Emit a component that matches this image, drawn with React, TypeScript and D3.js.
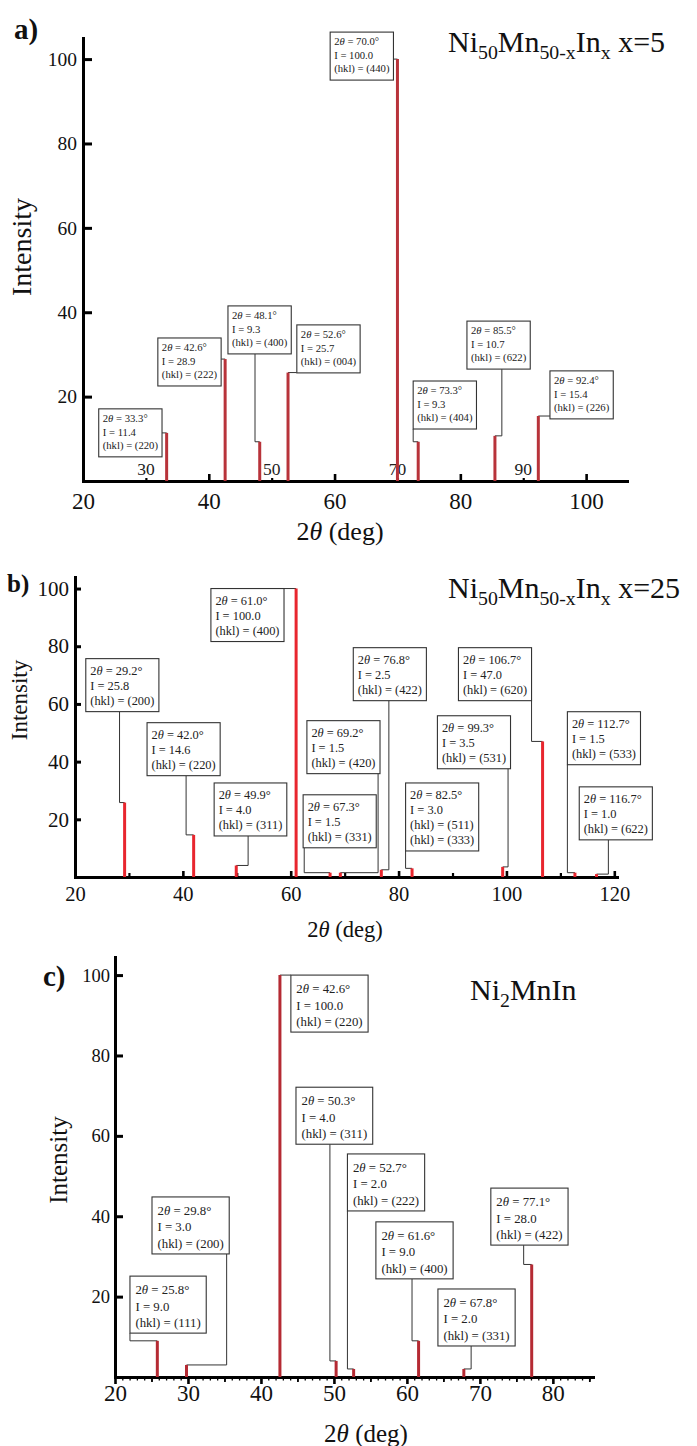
import React, { useEffect, useRef } from "react";
import * as d3 from "d3";

const WIDTH = 697;
const HEIGHT = 1446;
const SERIF = "'Liberation Serif', 'Times New Roman', Times, serif";
const Y_TICKS = [20, 40, 60, 80, 100];

// a) Ni50Mn50-xInx, x = 5
const anglesA = [33.3, 42.6, 48.1, 52.6, 70.0, 73.3, 85.5, 92.4];
const intensityA = [11.4, 28.9, 9.3, 25.7, 100.0, 9.3, 10.7, 15.4];
const hklA = [["220"], ["222"], ["400"], ["004"], ["440"], ["404"], ["622"], ["226"]];
const xTicksA = [20, 40, 60, 80, 100];
const xInnerA = [30, 50, 70, 90];
// label boxes: top-left corner in (deg, intensity), leader drop x in deg (null = straight across)
const boxXA = [22.5, 31.9, 43.05, 54.0, 59.3, 72.5, 81.05, 94.25];
const boxYA = [17.1, 33.9, 41.5, 37.0, 106.4, 23.7, 37.9, 26.1];
const leadXA = [null, null, 47.35, null, null, 72.5, 86.6, null];

// b) Ni50Mn50-xInx, x = 25
const anglesB = [29.2, 42.0, 49.9, 61.0, 67.3, 69.2, 76.8, 82.5, 99.3, 106.7, 112.7, 116.7];
const intensityB = [25.8, 14.6, 4.0, 100.0, 1.5, 1.5, 2.5, 3.0, 3.5, 47.0, 1.5, 1.0];
const hklB = [["200"], ["220"], ["311"], ["400"], ["331"], ["420"], ["422"], ["511", "333"], ["531"], ["620"], ["533"], ["622"]];
const xTicksB = [20, 40, 60, 80, 100, 120];
const xMinorB = [30, 50, 70, 90, 110];
const boxXB = [22.0, 33.36, 45.8, 45.2, 62.3, 63.0, 71.6, 81.3, 87.2, 91.1, 111.3, 113.5];
const boxYB = [75.7, 53.5, 32.6, 100.0, 28.5, 54.2, 79.5, 32.6, 55.9, 79.5, 57.3, 31.25];
const leadXB = [28.26, 40.6, 52.1, null, 62.5, 76.2, 78.2, 81.3, 100.3, 104.8, 111.3, 118.9];

// c) Ni2MnIn
const anglesC = [25.8, 29.8, 42.6, 50.3, 52.7, 61.6, 67.8, 77.1];
const intensityC = [9.0, 3.0, 100.0, 4.0, 2.0, 9.0, 2.0, 28.0];
const hklC = [["111"], ["200"], ["220"], ["311"], ["222"], ["400"], ["331"], ["422"]];
const xTicksC = [20, 30, 40, 50, 60, 70, 80];
const boxXC = [22.05, 25.07, 44.1, 44.8, 51.85, 55.75, 64.25, 71.5];
const boxYC = [25.1, 44.8, 100.0, 72.1, 55.5, 38.6, 21.9, 47.0];
const leadXC = [22.05, 35.3, null, 49.45, 51.85, 60.7, 68.8, 76.0];

const panels = [
  {
    letter: "a)", letterX: 14, letterY: 39, letterSize: 29,
    title: [["Ni", 0], ["50", 1], ["Mn", 0], ["50-x", 1], ["In", 0], ["x", 1], [" x=5", 0]],
    titleX: 448, titleY: 52, titleSize: 30,
    angles: anglesA, intensity: intensityA, hkl: hklA, boxX: boxXA, boxY: boxYA, leadX: leadXA,
    xDomain: [20, 106.5], xRange: [83, 627], yDomain: [0, 105], yRange: [481, 38],
    xTicks: xTicksA, xMinor: xInnerA, xMid: [], xInner: xInnerA,
    majorLen: -7, minorLen: -3, midLen: 0, xPad: 12, xFont: 23,
    yTickLen: 9, yPad: 6, yFont: 19.5,
    yTitleX: 31, yTitleY: 247, yTitleSize: 28,
    xTitleX: 340, xTitleY: 540, xTitleSize: 26,
    color: "#b8333a",
    font: 10.7, padX: 4, first: 13, lh: 13.7, bottom: 7.6,
  },
  {
    letter: "b)", letterX: 7, letterY: 592, letterSize: 25,
    title: [["Ni", 0], ["50", 1], ["Mn", 0], ["50-x", 1], ["In", 0], ["x", 1], [" x=25", 0]],
    titleX: 448, titleY: 598, titleSize: 30,
    angles: anglesB, intensity: intensityB, hkl: hklB, boxX: boxXB, boxY: boxYB, leadX: leadXB,
    xDomain: [20, 120.5], xRange: [75, 617], yDomain: [0, 104], yRange: [877, 577],
    xTicks: xTicksB, xMinor: xMinorB, xMid: [], xInner: [],
    majorLen: -6, minorLen: -4, midLen: 0, xPad: 9, xFont: 20.5,
    yTickLen: 6, yPad: 6, yFont: 21,
    yTitleX: 27, yTitleY: 700, yTitleSize: 23,
    xTitleX: 345, xTitleY: 937, xTitleSize: 22.5,
    color: "#e8262e",
    font: 12.4, padX: 4.5, first: 16, lh: 15, bottom: 7,
  },
  {
    letter: "c)", letterX: 43, letterY: 986, letterSize: 29,
    title: [["Ni", 0], ["2", 1], ["MnIn", 0]],
    titleX: 470, titleY: 1000, titleSize: 30,
    angles: anglesC, intensity: intensityC, hkl: hklC, boxX: boxXC, boxY: boxYC, leadX: leadXC,
    xDomain: [20, 85.5], xRange: [115, 593], yDomain: [0, 104.5], yRange: [1377, 957],
    xTicks: xTicksC, xMinor: d3.range(21, 86), xMid: [25, 35, 45, 55, 65, 75, 85], xInner: [],
    majorLen: 7, minorLen: 3.5, midLen: 5, xPad: 1, xFont: 23,
    yTickLen: 8, yPad: 5, yFont: 18.5,
    yTitleX: 67, yTitleY: 1160, yTitleSize: 25,
    xTitleX: 366, xTitleY: 1442, xTitleSize: 25,
    color: "#b52a33",
    font: 12.8, padX: 5.5, first: 18, lh: 16.5, bottom: 6,
  },
];

function styleAxis(sel, font, lineWidth, domainWidth) {
  sel.attr("font-family", SERIF);
  sel.select(".domain").attr("stroke-width", domainWidth).attr("stroke-linecap", "square").attr("stroke", "#000");
  sel.selectAll(".tick line").attr("stroke-width", lineWidth).attr("stroke", "#000");
  sel.selectAll(".tick text")
    .attr("font-size", font)
    .attr("fill", "#111")
    .style("font-family", SERIF);
}

function drawPanel(root, p) {
  const x = d3.scaleLinear().domain(p.xDomain).range(p.xRange);
  const y = d3.scaleLinear().domain(p.yDomain).range(p.yRange);
  const g = root.append("g").style("font-family", SERIF);
  const y0 = y(0);

  // minor ticks on the x axis
  const minor = (vals, len, w) => {
    if (!vals.length || !len) return;
    g.append("g")
      .attr("transform", `translate(0,${y0})`)
      .call(d3.axisBottom(x).tickValues(vals).tickSize(len).tickFormat(() => ""))
      .call((s) => s.select(".domain").remove())
      .call((s) => s.selectAll("line").attr("stroke", "#000").attr("stroke-width", w));
  };
  minor(p.xMinor, p.minorLen, p.xMid.length ? 1.3 : 2.2);
  minor(p.xMid, p.midLen, 1.8);

  const xa = g.append("g")
    .attr("transform", `translate(0,${y0})`)
    .call(d3.axisBottom(x).tickValues(p.xTicks).tickSizeInner(p.majorLen).tickSizeOuter(0).tickPadding(p.xPad).tickFormat(d3.format("d")));
  styleAxis(xa, p.xFont, 2.6, 3);

  const ya = g.append("g")
    .attr("transform", `translate(${p.xRange[0]},0)`)
    .call(d3.axisLeft(y).tickValues(Y_TICKS).tickSizeInner(-p.yTickLen).tickSizeOuter(0).tickPadding(p.yPad));
  styleAxis(ya, p.yFont, 3, 3);

  // odd labels printed just above the axis in panel a
  g.selectAll(".inner")
    .data(p.xInner)
    .enter()
    .append("text")
    .attr("x", (d) => x(d))
    .attr("y", y0 - 6)
    .attr("text-anchor", "middle")
    .attr("font-size", 17.5)
    .attr("fill", "#222")
    .text((d) => d);

  const leaders = g.append("g");
  const peaks = g.append("g");
  const boxes = g.append("g");

  p.angles.forEach((a, i) => {
    const px = x(a);
    const py = y(p.intensity[i]);

    peaks.append("line")
      .attr("x1", px).attr("x2", px)
      .attr("y1", y0).attr("y2", py)
      .attr("stroke", p.color)
      .attr("stroke-width", 3);

    const bx = x(p.boxX[i]);
    const by = y(p.boxY[i]);
    const box = boxes.append("g");
    const rect = box.append("rect").attr("fill", "#fff").attr("stroke", "#333").attr("stroke-width", 1.1);

    const lines = [];
    const t0 = box.append("text");
    t0.append("tspan").text("2");
    t0.append("tspan").attr("font-style", "italic").text("θ");
    t0.append("tspan").text(` = ${a.toFixed(1)}°`);
    lines.push(t0);
    lines.push(box.append("text").text(`I = ${p.intensity[i].toFixed(1)}`));
    p.hkl[i].forEach((h) => lines.push(box.append("text").text(`(hkl) = (${h})`)));

    let w = 0;
    lines.forEach((t, j) => {
      t.attr("x", bx + p.padX)
        .attr("y", by + p.first + j * p.lh)
        .attr("font-size", p.font)
        .attr("fill", "#222");
      w = Math.max(w, t.node().getComputedTextLength());
    });
    const bw = w + 2 * p.padX;
    const bh = p.first + p.lh * (lines.length - 1) + p.bottom;
    rect.attr("x", bx).attr("y", by).attr("width", bw).attr("height", bh);

    const lx = p.leadX[i];
    const ax = lx == null ? (bx > px ? bx : bx + bw) : Math.max(bx, Math.min(bx + bw, x(lx)));
    const ay = py > by + bh ? by + bh : py < by ? by : py;
    leaders.append("path")
      .attr("d", `M${px},${py}H${ax}V${ay}`)
      .attr("fill", "none")
      .attr("stroke", "#333")
      .attr("stroke-width", 1);
  });

  // panel letter
  g.append("text")
    .attr("x", p.letterX).attr("y", p.letterY)
    .attr("font-weight", "bold")
    .attr("font-size", p.letterSize).attr("fill", "#111")
    .text(p.letter);

  // compound title with subscripts
  const tt = g.append("text")
    .attr("x", p.titleX).attr("y", p.titleY)
    .attr("font-size", p.titleSize).attr("fill", "#111");
  const shift = p.titleSize * 0.22;
  let down = false;
  p.title.forEach(([s, sub]) => {
    const ts = tt.append("tspan").text(s);
    if (sub) {
      ts.attr("font-size", p.titleSize * 0.66);
      if (!down) { ts.attr("dy", shift); down = true; }
    } else if (down) {
      ts.attr("dy", -shift);
      down = false;
    }
  });

  // axis titles
  g.append("text")
    .attr("transform", `translate(${p.yTitleX},${p.yTitleY}) rotate(-90)`)
    .attr("text-anchor", "middle")
    .attr("font-size", p.yTitleSize).attr("fill", "#111")
    .text("Intensity");

  const xt = g.append("text")
    .attr("x", p.xTitleX).attr("y", p.xTitleY)
    .attr("text-anchor", "middle")
    .attr("font-size", p.xTitleSize).attr("fill", "#111");
  xt.append("tspan").text("2");
  xt.append("tspan").attr("font-style", "italic").text("θ");
  xt.append("tspan").text(" (deg)");
}

const App = () => {
  const ref = useRef(null);

  useEffect(() => {
    const svg = d3.select(ref.current);
    svg.selectAll("*").remove();
    svg.append("rect").attr("width", WIDTH).attr("height", HEIGHT).attr("fill", "#fff");
    panels.forEach((p) => drawPanel(svg, p));
  }, []);

  return (
    <svg
      ref={ref}
      width={WIDTH}
      height={HEIGHT}
      style={{ position: "absolute", left: 0, top: 0, display: "block", fontFamily: SERIF }}
    />
  );
};

export default App;
